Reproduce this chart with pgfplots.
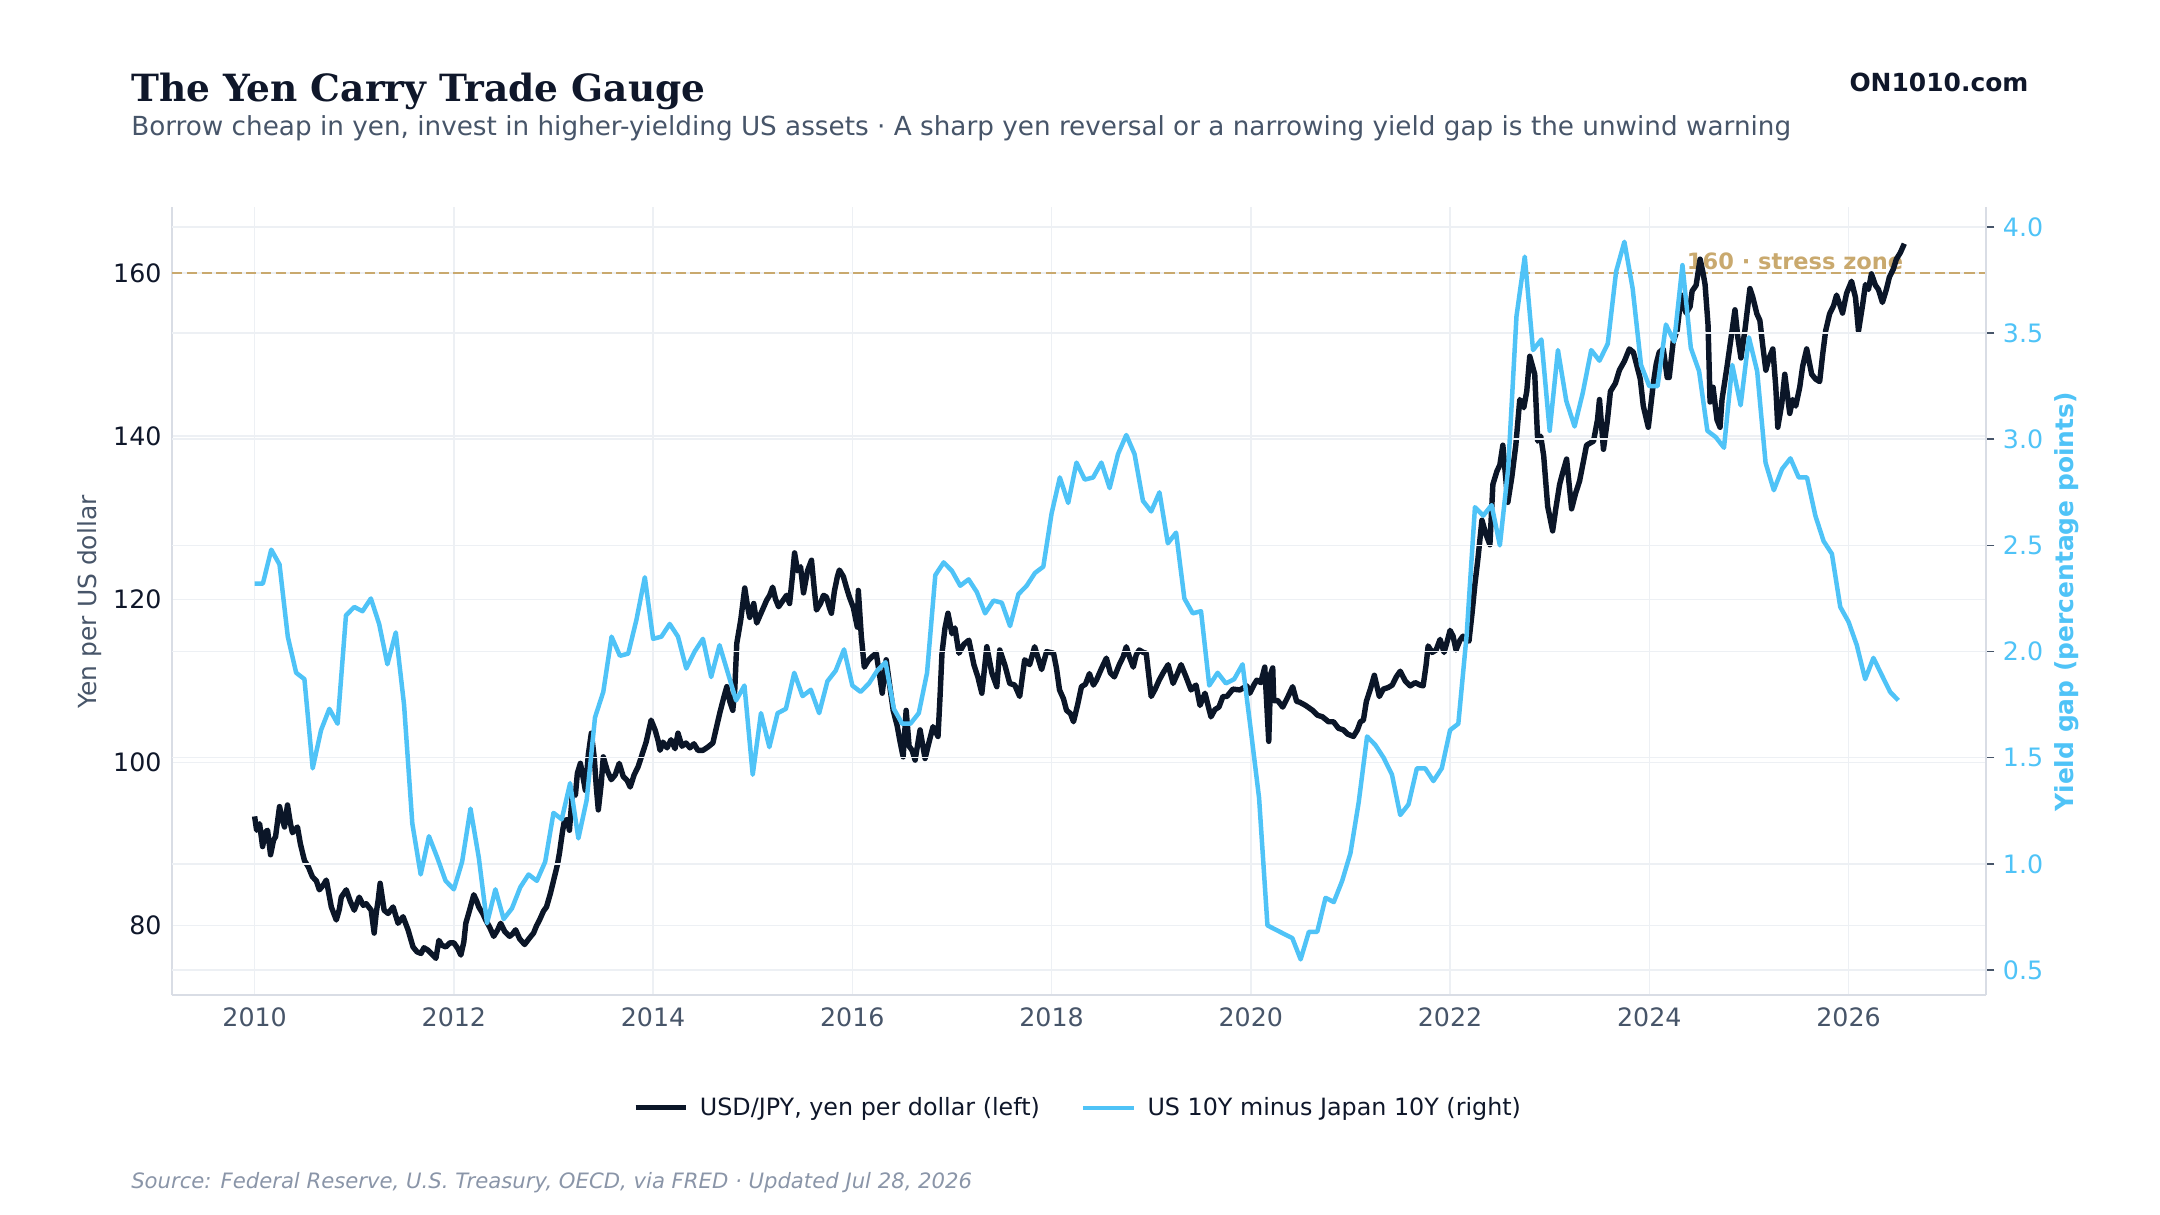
\documentclass[border=0pt]{standalone}
\usepackage{pgfplots}
\pgfplotsset{compat=1.18}
\usepackage{pgfplotstable}
\usepackage{fontspec}
\setmainfont{DejaVu Sans}
\newfontfamily\titlefont{DejaVu Serif}
\definecolor{navy}{HTML}{0F172A}
\definecolor{linenavy}{HTML}{0B1628}
\definecolor{slate}{HTML}{475569}
\definecolor{lslate}{HTML}{8A95A8}
\definecolor{sky}{HTML}{4FC3F7}
\definecolor{tan}{HTML}{C9A96E}
\definecolor{gridc}{HTML}{EDF0F4}
\definecolor{spine}{HTML}{D9DDE5}

\pgfplotstableread{
x y
2010.00 93.4
2010.02 91.7
2010.05 92.5
2010.08 89.7
2010.11 91.5
2010.13 91.7
2010.16 88.7
2010.19 90.5
2010.21 90.9
2010.25 94.6
2010.28 93.0
2010.30 92.1
2010.33 94.8
2010.36 92.5
2010.38 91.4
2010.43 92.1
2010.46 90.0
2010.50 88.0
2010.54 87.2
2010.58 86.0
2010.62 85.5
2010.65 84.4
2010.69 85.0
2010.72 85.6
2010.77 82.3
2010.82 80.7
2010.85 82.0
2010.87 83.5
2010.92 84.4
2010.96 83.0
2011.00 81.9
2011.05 83.5
2011.09 82.5
2011.12 82.7
2011.17 81.9
2011.20 79.1
2011.22 81.5
2011.24 83.1
2011.26 85.2
2011.30 81.9
2011.34 81.5
2011.39 82.3
2011.44 80.3
2011.49 81.1
2011.54 79.5
2011.59 77.4
2011.63 76.8
2011.67 76.6
2011.70 77.3
2011.74 77.0
2011.78 76.5
2011.82 76.0
2011.85 78.2
2011.88 77.6
2011.92 77.4
2011.96 77.9
2012.00 77.9
2012.04 77.2
2012.07 76.4
2012.10 78.0
2012.12 80.3
2012.16 82.0
2012.20 83.8
2012.23 83.0
2012.25 82.3
2012.29 81.5
2012.32 80.7
2012.36 79.8
2012.40 78.7
2012.44 79.5
2012.47 80.3
2012.51 79.3
2012.56 78.7
2012.59 79.0
2012.62 79.5
2012.66 78.4
2012.71 77.7
2012.76 78.5
2012.80 79.1
2012.83 80.0
2012.86 80.7
2012.90 81.8
2012.93 82.3
2012.97 84.0
2013.01 86.0
2013.04 87.5
2013.06 88.9
2013.09 91.5
2013.11 92.9
2013.14 93.0
2013.16 91.7
2013.19 96.2
2013.22 96.0
2013.24 98.7
2013.27 99.9
2013.30 98.0
2013.32 96.6
2013.35 101.0
2013.38 103.6
2013.41 100.5
2013.43 97.0
2013.45 94.2
2013.48 97.5
2013.50 100.7
2013.54 99.0
2013.58 97.9
2013.62 98.5
2013.66 99.9
2013.70 98.3
2013.74 97.8
2013.77 97.0
2013.81 98.5
2013.85 99.5
2013.89 101.0
2013.93 102.5
2013.98 105.2
2014.02 104.0
2014.05 102.7
2014.07 101.5
2014.10 102.5
2014.14 101.8
2014.18 102.8
2014.22 101.7
2014.25 103.6
2014.29 102.0
2014.33 102.4
2014.37 101.8
2014.41 102.3
2014.45 101.5
2014.50 101.5
2014.55 101.9
2014.60 102.4
2014.63 104.0
2014.67 106.1
2014.71 108.0
2014.74 109.3
2014.77 107.5
2014.80 106.4
2014.82 109.0
2014.84 114.6
2014.88 117.5
2014.92 121.4
2014.95 119.0
2014.97 117.8
2015.01 119.5
2015.04 117.1
2015.09 118.5
2015.14 119.9
2015.17 120.5
2015.20 121.5
2015.23 120.0
2015.26 119.1
2015.30 119.8
2015.34 120.5
2015.37 119.5
2015.40 123.0
2015.42 125.7
2015.45 123.5
2015.48 124.0
2015.51 120.8
2015.55 123.5
2015.59 124.8
2015.62 121.0
2015.64 118.7
2015.68 119.5
2015.71 120.5
2015.74 120.3
2015.77 119.0
2015.79 118.3
2015.82 121.0
2015.85 122.8
2015.87 123.6
2015.91 122.8
2015.94 121.5
2015.97 120.3
2016.01 119.0
2016.05 116.6
2016.06 121.1
2016.09 115.5
2016.12 111.7
2016.16 112.5
2016.20 113.0
2016.24 113.4
2016.27 111.0
2016.30 108.5
2016.34 112.6
2016.38 109.0
2016.41 106.4
2016.45 104.5
2016.48 102.5
2016.51 100.7
2016.54 106.4
2016.57 102.0
2016.60 101.5
2016.63 100.3
2016.68 104.0
2016.73 100.5
2016.77 102.5
2016.81 104.4
2016.86 103.2
2016.88 108.0
2016.90 113.4
2016.93 116.5
2016.96 118.3
2017.00 115.8
2017.03 116.5
2017.07 113.4
2017.12 114.5
2017.17 115.0
2017.22 112.0
2017.26 110.5
2017.30 108.5
2017.35 114.2
2017.40 111.0
2017.45 109.3
2017.48 113.8
2017.53 112.0
2017.58 109.7
2017.63 109.5
2017.68 108.1
2017.73 112.6
2017.78 112.0
2017.83 114.2
2017.90 111.4
2017.95 113.6
2018.02 113.4
2018.05 111.5
2018.08 108.9
2018.12 107.8
2018.15 106.4
2018.19 106.0
2018.22 105.0
2018.26 107.0
2018.30 109.3
2018.34 109.6
2018.38 110.9
2018.42 109.5
2018.45 110.1
2018.50 111.5
2018.55 112.8
2018.59 111.0
2018.63 110.5
2018.68 112.0
2018.72 113.0
2018.75 114.2
2018.78 113.0
2018.82 111.7
2018.85 113.2
2018.88 113.8
2018.92 113.5
2018.95 113.4
2019.00 108.1
2019.04 109.0
2019.08 110.1
2019.12 111.0
2019.17 112.0
2019.22 109.7
2019.26 110.8
2019.30 112.0
2019.35 110.5
2019.40 108.9
2019.45 109.5
2019.49 107.0
2019.54 108.5
2019.60 105.6
2019.64 106.5
2019.68 106.8
2019.72 108.1
2019.76 108.1
2019.82 109.0
2019.89 108.9
2019.96 109.4
2019.99 108.5
2020.03 109.5
2020.06 110.1
2020.10 109.8
2020.14 111.7
2020.18 102.6
2020.20 110.9
2020.22 111.6
2020.23 107.6
2020.27 107.6
2020.32 106.8
2020.37 108.0
2020.42 109.3
2020.46 107.5
2020.49 107.4
2020.55 107.0
2020.62 106.4
2020.67 105.8
2020.72 105.6
2020.78 105.0
2020.83 105.0
2020.88 104.2
2020.93 104.0
2020.97 103.5
2021.03 103.2
2021.07 104.0
2021.10 105.0
2021.13 105.2
2021.16 107.5
2021.20 109.0
2021.24 110.7
2021.29 108.1
2021.33 109.0
2021.38 109.2
2021.42 109.5
2021.46 110.5
2021.50 111.2
2021.55 110.0
2021.60 109.4
2021.65 109.8
2021.70 109.5
2021.73 109.4
2021.76 112.0
2021.78 114.3
2021.82 113.5
2021.86 113.8
2021.90 115.1
2021.94 113.5
2021.97 114.8
2022.00 116.2
2022.03 115.5
2022.06 113.8
2022.10 115.0
2022.13 115.5
2022.16 115.0
2022.19 114.9
2022.22 118.2
2022.25 121.9
2022.28 125.0
2022.32 129.7
2022.36 128.0
2022.40 126.7
2022.43 134.1
2022.47 135.7
2022.50 136.5
2022.53 138.9
2022.58 131.9
2022.62 135.0
2022.66 138.9
2022.70 144.5
2022.74 143.5
2022.77 145.5
2022.80 149.8
2022.85 147.6
2022.88 139.4
2022.91 140.0
2022.94 137.6
2022.98 131.4
2023.03 128.4
2023.06 131.0
2023.10 134.1
2023.13 135.5
2023.17 137.2
2023.22 131.1
2023.26 133.0
2023.30 134.5
2023.34 137.0
2023.37 138.9
2023.44 139.4
2023.48 142.0
2023.50 144.5
2023.54 138.4
2023.58 142.0
2023.61 145.5
2023.66 146.5
2023.70 148.1
2023.75 149.2
2023.80 150.7
2023.84 150.3
2023.87 148.9
2023.91 147.0
2023.94 143.7
2023.99 141.1
2024.04 146.4
2024.07 148.9
2024.10 150.3
2024.14 150.7
2024.18 147.2
2024.20 147.2
2024.24 151.6
2024.28 153.0
2024.32 157.3
2024.35 155.8
2024.37 155.1
2024.41 155.9
2024.43 157.8
2024.47 158.5
2024.51 161.7
2024.54 160.0
2024.56 158.6
2024.59 153.6
2024.61 144.2
2024.64 146.0
2024.68 142.0
2024.71 141.1
2024.73 144.5
2024.78 148.5
2024.82 152.0
2024.86 155.5
2024.89 152.0
2024.92 149.6
2024.96 153.0
2025.01 158.1
2025.04 157.0
2025.08 155.0
2025.11 154.2
2025.14 151.0
2025.17 148.1
2025.20 149.5
2025.24 150.7
2025.27 146.0
2025.29 141.1
2025.33 144.0
2025.36 147.6
2025.41 142.8
2025.44 144.5
2025.47 143.7
2025.51 146.0
2025.54 148.6
2025.58 150.7
2025.63 147.6
2025.67 147.0
2025.71 146.7
2025.74 150.0
2025.77 152.9
2025.81 155.0
2025.85 156.0
2025.88 157.3
2025.94 155.1
2025.98 157.5
2026.03 159.0
2026.07 157.0
2026.10 152.9
2026.14 156.0
2026.17 158.6
2026.20 158.0
2026.23 159.9
2026.27 158.5
2026.30 158.0
2026.34 156.4
2026.38 158.0
2026.41 159.5
2026.45 160.5
2026.48 161.7
2026.52 162.5
2026.56 163.6
}\usdjpy

\pgfplotstableread{
x y
2010.000 2.32
2010.083 2.32
2010.167 2.48
2010.250 2.41
2010.333 2.07
2010.417 1.90
2010.500 1.87
2010.583 1.45
2010.667 1.63
2010.750 1.73
2010.833 1.66
2010.917 2.17
2011.000 2.21
2011.083 2.19
2011.167 2.25
2011.250 2.13
2011.333 1.94
2011.417 2.09
2011.500 1.75
2011.583 1.19
2011.667 0.95
2011.750 1.13
2011.833 1.03
2011.917 0.92
2012.000 0.88
2012.083 1.01
2012.167 1.26
2012.250 1.03
2012.333 0.72
2012.417 0.88
2012.500 0.74
2012.583 0.79
2012.667 0.89
2012.750 0.95
2012.833 0.92
2012.917 1.01
2013.000 1.24
2013.083 1.21
2013.167 1.38
2013.250 1.12
2013.333 1.30
2013.417 1.69
2013.500 1.81
2013.583 2.07
2013.667 1.98
2013.750 1.99
2013.833 2.15
2013.917 2.35
2014.000 2.06
2014.083 2.07
2014.167 2.13
2014.250 2.07
2014.333 1.92
2014.417 2.00
2014.500 2.06
2014.583 1.88
2014.667 2.03
2014.750 1.90
2014.833 1.77
2014.917 1.84
2015.000 1.42
2015.083 1.71
2015.167 1.55
2015.250 1.71
2015.333 1.73
2015.417 1.90
2015.500 1.79
2015.583 1.82
2015.667 1.71
2015.750 1.86
2015.833 1.91
2015.917 2.01
2016.000 1.84
2016.083 1.81
2016.167 1.85
2016.250 1.91
2016.333 1.95
2016.417 1.73
2016.500 1.66
2016.583 1.66
2016.667 1.71
2016.750 1.90
2016.833 2.36
2016.917 2.42
2017.000 2.38
2017.083 2.31
2017.167 2.34
2017.250 2.28
2017.333 2.18
2017.417 2.24
2017.500 2.23
2017.583 2.12
2017.667 2.27
2017.750 2.31
2017.833 2.37
2017.917 2.40
2018.000 2.65
2018.083 2.82
2018.167 2.70
2018.250 2.89
2018.333 2.81
2018.417 2.82
2018.500 2.89
2018.583 2.77
2018.667 2.93
2018.750 3.02
2018.833 2.93
2018.917 2.71
2019.000 2.66
2019.083 2.75
2019.167 2.51
2019.250 2.56
2019.333 2.25
2019.417 2.18
2019.500 2.19
2019.583 1.84
2019.667 1.90
2019.750 1.85
2019.833 1.87
2019.917 1.94
2020.000 1.63
2020.083 1.31
2020.167 0.71
2020.250 0.69
2020.333 0.67
2020.417 0.65
2020.500 0.55
2020.583 0.68
2020.667 0.68
2020.750 0.84
2020.833 0.82
2020.917 0.92
2021.000 1.05
2021.083 1.29
2021.167 1.60
2021.250 1.56
2021.333 1.50
2021.417 1.42
2021.500 1.23
2021.583 1.28
2021.667 1.45
2021.750 1.45
2021.833 1.39
2021.917 1.45
2022.000 1.63
2022.083 1.66
2022.167 2.08
2022.250 2.68
2022.333 2.64
2022.417 2.69
2022.500 2.50
2022.583 2.86
2022.667 3.58
2022.750 3.86
2022.833 3.42
2022.917 3.47
2023.000 3.04
2023.083 3.42
2023.167 3.18
2023.250 3.06
2023.333 3.22
2023.417 3.42
2023.500 3.37
2023.583 3.45
2023.667 3.79
2023.750 3.93
2023.833 3.71
2023.917 3.35
2024.000 3.25
2024.083 3.25
2024.167 3.54
2024.250 3.46
2024.333 3.82
2024.417 3.43
2024.500 3.32
2024.583 3.04
2024.667 3.01
2024.750 2.96
2024.833 3.35
2024.917 3.16
2025.000 3.48
2025.083 3.32
2025.167 2.89
2025.250 2.76
2025.333 2.86
2025.417 2.91
2025.500 2.82
2025.583 2.82
2025.667 2.64
2025.750 2.52
2025.833 2.46
2025.917 2.21
2026.000 2.14
2026.083 2.03
2026.167 1.87
2026.250 1.97
2026.333 1.89
2026.417 1.81
2026.500 1.77
}\gap

\pgfplotsset{
  common/.style={
    at={(91.7pt,117.3pt)}, anchor=south west,
    width=967.5pt, height=420.3pt, scale only axis,
    xmin=2009.17, xmax=2027.38,
    /pgf/number format/assume math mode=true,
  }
}

\begin{document}
\begin{tikzpicture}
\path[use as bounding box] (0pt,0pt) rectangle (1152pt,648pt);

\node[anchor=base west, inner sep=0, text=navy,
  font=\titlefont\bfseries\fontsize{20}{24}\selectfont] at (69.8pt,594pt) {The Yen Carry Trade Gauge};
\node[anchor=base west, inner sep=0, text=slate,
  font=\fontsize{14}{17}\selectfont] at (69.8pt,575.5pt) {Borrow cheap in yen, invest in higher-yielding US assets · A sharp yen reversal or a narrowing yield gap is the unwind warning};
\node[anchor=base east, inner sep=0, text=navy,
  font=\bfseries\fontsize{13.3}{16}\selectfont] at (1082pt,599pt) {ON1010.com};
\node[anchor=base west, inner sep=0, text=lslate,
  font=\itshape\fontsize{11.3}{13}\selectfont] at (69.8pt,14pt) {Source: Federal Reserve, U.S. Treasury, OECD, via FRED · Updated Jul 28, 2026};
\node[rotate=90, inner sep=0, text=slate, font=\fontsize{13.3}{16}\selectfont] at (47.7pt,327pt) {Yen per US dollar};
\node[rotate=90, inner sep=0, text=sky, font=\bfseries\fontsize{13.3}{16}\selectfont] at (1102pt,327pt) {Yield gap (percentage points)};

\begin{axis}[common,
  ymin=71.5, ymax=168.1,
  separate axis lines,
  axis x line*=bottom, axis y line*=left,
  axis line style={spine, line width=1pt},
  xtick={2010,2012,2014,2016,2018,2020,2022,2024,2026},
  xticklabels={2010,2012,2014,2016,2018,2020,2022,2024,2026},
  ytick={80,100,120,140,160},
  major tick length=0pt,
  grid=major, major grid style={gridc, line width=0.8pt},
  xticklabel style={text=slate, font=\fontsize{13.5}{16}\selectfont, yshift=-3pt},
  yticklabel style={text=navy, font=\fontsize{13.5}{16}\selectfont, xshift=-2pt},
]
\addplot[tan, line width=1.5pt, dash pattern=on 5.5pt off 2.4pt] coordinates {(2009.17,160) (2027.38,160)};
\node[anchor=south east, inner sep=1.5pt, text=tan, font=\bfseries\fontsize{12}{14}\selectfont] at (axis cs:2026.58,160) {160 · stress zone};
\addplot[linenavy, line width=2.9pt, line join=round] table[x=x,y=y] {\usdjpy};
\end{axis}

\begin{axis}[common,
  ymin=0.382, ymax=4.094,
  axis x line=none,
  axis y line*=right,
  axis line style={spine, line width=1pt},
  ytick={0.5,1.0,1.5,2.0,2.5,3.0,3.5,4.0},
  ymajorgrids=true, major grid style={gridc, line width=0.8pt},
  major tick length=4.5pt, tick align=outside,
  tick style={slate, line width=0.8pt},
  yticklabel style={text=sky, font=\fontsize{13.5}{16}\selectfont,
    /pgf/number format/fixed, /pgf/number format/fixed zerofill, /pgf/number format/precision=1, xshift=1pt},
  legend style={at={(0.5,-0.143)}, anchor=center, draw=none, fill=none,
    font=\fontsize{12.7}{15}\selectfont, text=navy,
    /tikz/every odd column/.append style={column sep=4pt},
    /tikz/every even column/.append style={column sep=20pt}},
  legend columns=2,
  legend image code/.code={\draw[#1] (0pt,0pt) -- (27pt,0pt);},
]
\addlegendimage{linenavy, line width=2.6pt}
\addlegendentry{USD/JPY, yen per dollar (left)}
\addplot[sky, line width=2.4pt, line join=round] table[x=x,y=y] {\gap};
\addlegendentry{US 10Y minus Japan 10Y (right)}
\end{axis}
\end{tikzpicture}
\end{document}
